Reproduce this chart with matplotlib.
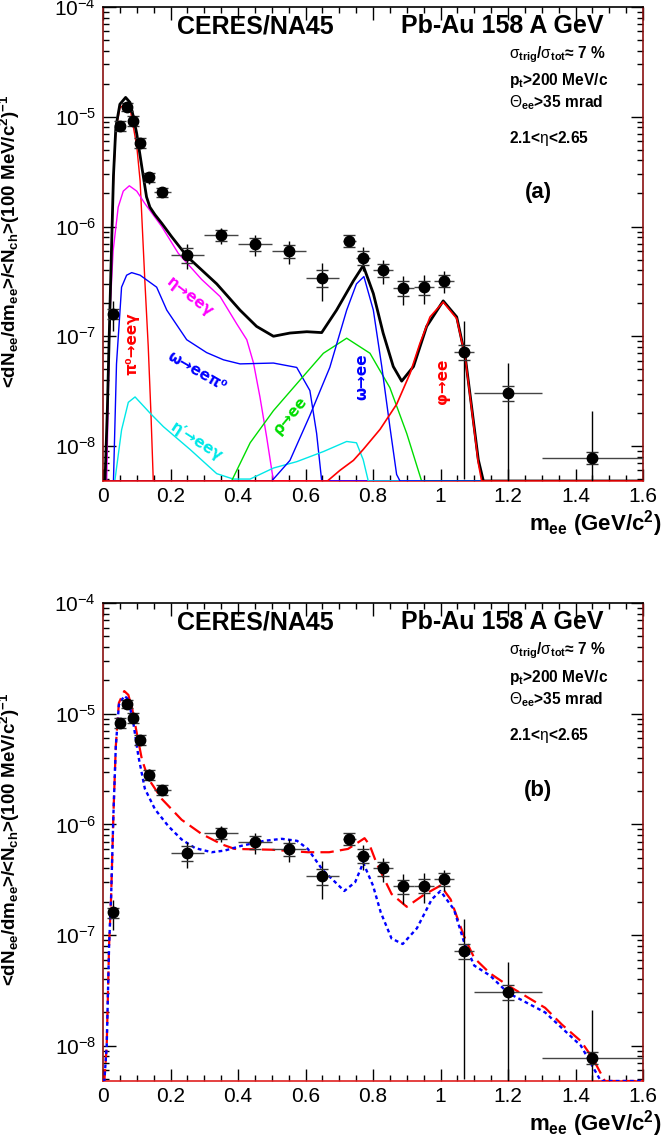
import numpy as np
import matplotlib
matplotlib.use('Agg')
import matplotlib.pyplot as plt
from matplotlib.ticker import FixedLocator, FuncFormatter, NullFormatter, MultipleLocator

plt.rcParams['font.family'] = ['Liberation Sans', 'DejaVu Sans']
plt.rcParams['mathtext.fontset'] = 'custom'
plt.rcParams['mathtext.rm'] = 'Liberation Sans'
plt.rcParams['mathtext.bf'] = 'Liberation Sans:bold'
plt.rcParams['mathtext.it'] = 'Liberation Sans:italic'

# ---------------- data points ----------------
mass = [0.03, 0.05, 0.07, 0.09, 0.11, 0.135, 0.175, 0.25, 0.35, 0.45, 0.55, 0.65,
        0.73, 0.77, 0.83, 0.89, 0.95, 1.01, 1.07, 1.20, 1.45]
mass_halfwidth = [0.01, 0.01, 0.01, 0.01, 0.01, 0.015, 0.025, 0.05, 0.05, 0.05, 0.05, 0.05,
                  0.02, 0.02, 0.03, 0.03, 0.03, 0.03, 0.03, 0.10, 0.15]
dn_dm = [1.6e-7, 8.3e-6, 1.23e-5, 9.2e-6, 5.8e-6, 2.8e-6, 2.05e-6, 5.5e-7, 8.3e-7, 6.9e-7,
         6.0e-7, 3.4e-7, 7.4e-7, 5.2e-7, 4.0e-7, 2.75e-7, 2.8e-7, 3.2e-7, 7.2e-8, 3.05e-8, 7.8e-9]
stat_rel = [0.30, 0.10, 0.08, 0.10, 0.10, 0.12, 0.10, 0.26, 0.17, 0.22, 0.24, 0.38,
            0.12, 0.25, 0.25, 0.30, 0.30, 0.22, 0.93, 0.89, 1.68]
sys_rel = [0.10, 0.10, 0.08, 0.10, 0.10, 0.10, 0.10, 0.15, 0.12, 0.14, 0.14, 0.17,
           0.12, 0.14, 0.14, 0.15, 0.15, 0.13, 0.15, 0.16, 0.13]

# ---------------- cocktail (panel a) ----------------
sum_m = [0.0, 0.006, 0.013, 0.018, 0.023, 0.031, 0.038, 0.05, 0.067, 0.08, 0.09, 0.1, 0.115,
         0.129, 0.139, 0.154, 0.174, 0.203, 0.25, 0.337, 0.406, 0.455, 0.505, 0.554, 0.604,
         0.648, 0.692, 0.742, 0.771, 0.801, 0.83, 0.86, 0.885, 0.92, 0.959, 1.008, 1.048,
         1.073, 1.092, 1.112, 1.127, 1.6]
sum_y = [4e-9, 4e-9, 2.2e-8, 9e-8, 3.5e-7, 2.9e-6, 8e-6, 1.3e-5, 1.5e-5, 1.35e-5, 1.0e-5, 7e-6,
         3.5e-6, 1.86e-6, 1.5e-6, 1.28e-6, 1.07e-6, 8.1e-7, 5.3e-7, 3.0e-7, 1.73e-7, 1.23e-7,
         1.0e-7, 1.07e-7, 1.1e-7, 1.08e-7, 1.73e-7, 3.2e-7, 4.4e-7, 2.45e-7, 1.07e-7, 5.3e-8,
         3.9e-8, 5.3e-8, 1.23e-7, 2.1e-7, 1.5e-7, 6.6e-8, 2.3e-8, 7.5e-9, 4e-9, 4e-9]

pi0_m = [0.0, 0.006, 0.013, 0.018, 0.023, 0.031, 0.038, 0.05, 0.067, 0.08, 0.1, 0.11, 0.124,
         0.134, 0.142, 0.149, 1.6]
pi0_y = [4e-9, 4e-9, 2e-8, 8e-8, 3.2e-7, 2.6e-6, 7.5e-6, 1.2e-5, 1.33e-5, 1.2e-5, 5.4e-6,
         2.6e-6, 3.2e-7, 8.1e-8, 2e-8, 4e-9, 4e-9]

eta_m = [0.0, 0.011, 0.02, 0.03, 0.045, 0.06, 0.078, 0.1, 0.124, 0.174, 0.223, 0.292, 0.347,
         0.396, 0.426, 0.446, 0.465, 0.485, 0.505, 1.6]
eta_y = [4e-9, 4e-9, 1.5e-7, 6e-7, 1.5e-6, 2.1e-6, 2.35e-6, 2.1e-6, 1.62e-6, 1.0e-6, 5.7e-7,
         3.3e-7, 2.3e-7, 1.3e-7, 9.3e-8, 5.7e-8, 2.8e-8, 1.2e-8, 4e-9, 4e-9]

omd_m = [0.0, 0.031, 0.04, 0.055, 0.07, 0.085, 0.11, 0.159, 0.189, 0.248, 0.307, 0.357, 0.406,
         0.505, 0.574, 0.613, 0.633, 0.648, 1.6]
omd_y = [4e-9, 4e-9, 5.6e-8, 2.8e-7, 3.6e-7, 3.8e-7, 3.6e-7, 2.8e-7, 1.73e-7, 9.3e-8, 7.1e-8,
         6.1e-8, 5.6e-8, 5.7e-8, 5.2e-8, 3.2e-8, 1.3e-8, 4e-9, 4e-9]

etap_m = [0.0, 0.035, 0.055, 0.075, 0.095, 0.139, 0.179, 0.258, 0.337, 0.386, 0.436, 0.505,
          0.574, 0.653, 0.722, 0.751, 0.771, 0.786, 1.6]
etap_y = [4e-9, 4e-9, 1.4e-8, 2.5e-8, 2.8e-8, 2.0e-8, 1.5e-8, 9.3e-9, 5.6e-9, 5.0e-9, 5.0e-9,
          6.3e-9, 7.2e-9, 8.9e-9, 1.1e-8, 1.07e-8, 7.5e-9, 4e-9, 4e-9]

rho_m = [0.0, 0.381, 0.436, 0.505, 0.584, 0.653, 0.722, 0.791, 0.85, 0.9, 0.944, 1.6]
rho_y = [4e-9, 4e-9, 1.07e-8, 2.1e-8, 4e-8, 7e-8, 9.6e-8, 7e-8, 3.4e-8, 1.3e-8, 4e-9, 4e-9]

omee_m = [0.0, 0.5, 0.554, 0.613, 0.672, 0.722, 0.751, 0.773, 0.801, 0.826, 0.85, 0.87, 0.88, 1.6]
omee_y = [4e-9, 4e-9, 7.4e-9, 1.9e-8, 5.2e-8, 1.73e-7, 3e-7, 3.5e-7, 1.73e-7, 5.3e-8, 1.5e-8,
          5.5e-9, 4e-9, 4e-9]

phi_m = [0.0, 0.665, 0.702, 0.742, 0.771, 0.821, 0.87, 0.91, 0.939, 0.969, 1.008, 1.048, 1.073,
         1.092, 1.112, 1.122, 1.6]
phi_y = [4e-9, 4e-9, 6e-9, 7.4e-9, 9.3e-9, 1.42e-8, 2.4e-8, 4.6e-8, 8.6e-8, 1.5e-7, 2.05e-7,
         1.45e-7, 6.5e-8, 2.2e-8, 7e-9, 4e-9, 4e-9]

# ---------------- models (panel b) ----------------
red_m = [0.0, 0.004, 0.011, 0.018, 0.024, 0.031, 0.038, 0.047, 0.063, 0.075, 0.087, 0.1, 0.115,
         0.134, 0.174, 0.233, 0.292, 0.352, 0.39, 0.5, 0.607, 0.67, 0.726, 0.76, 0.775, 0.79,
         0.81, 0.855, 0.9, 0.95, 1.0, 1.03, 1.07, 1.1, 1.147, 1.2, 1.31, 1.36, 1.416, 1.45,
         1.487, 1.6]
red_y = [4e-9, 4e-9, 1e-8, 8e-8, 2.2e-7, 1.27e-6, 5.1e-6, 1.25e-5, 1.6e-5, 1.48e-5, 1.09e-5,
         6.7e-6, 3.9e-6, 2.6e-6, 1.7e-6, 1.1e-6, 8.2e-7, 6.6e-7, 6.0e-7, 5.9e-7, 5.6e-7, 5.6e-7,
         6.0e-7, 7.0e-7, 7.5e-7, 6.5e-7, 4.5e-7, 2.35e-7, 1.8e-7, 2.3e-7, 2.8e-7, 2.1e-7, 9.7e-8,
         6.2e-8, 4.5e-8, 3.5e-8, 2.2e-8, 1.55e-8, 1.1e-8, 7.8e-9, 4e-9, 4e-9]

blue_m = [0.0, 0.004, 0.011, 0.018, 0.024, 0.031, 0.038, 0.047, 0.063, 0.075, 0.09, 0.105,
          0.124, 0.154, 0.194, 0.233, 0.273, 0.322, 0.361, 0.41, 0.478, 0.53, 0.575, 0.607,
          0.65, 0.715, 0.747, 0.771, 0.8, 0.823, 0.855, 0.888, 0.93, 0.974, 1.0, 1.04, 1.07,
          1.1, 1.147, 1.2, 1.31, 1.416, 1.475, 1.6]
blue_y = [4e-9, 4e-9, 1e-8, 8e-8, 2.2e-7, 1.27e-6, 5.1e-6, 1.2e-5, 1.45e-5, 1.35e-5, 8.2e-6,
          4.1e-6, 2.1e-6, 1.37e-6, 9.6e-7, 7.3e-7, 6.1e-7, 5.6e-7, 5.8e-7, 6.4e-7, 7.1e-7,
          7.4e-7, 7.1e-7, 6.0e-7, 3.9e-7, 2.5e-7, 3.0e-7, 4.5e-7, 2.8e-7, 1.6e-7, 9.3e-8,
          8.3e-8, 1.15e-7, 2.1e-7, 2.5e-7, 1.7e-7, 8.6e-8, 5.3e-8, 4.3e-8, 3.0e-8, 2.0e-8,
          1.0e-8, 4e-9, 4e-9]

XMIN, XMAX = 0.0, 1.6
YMIN, YMAX = 4.8e-9, 1e-4

W, H = 662, 1140
fig = plt.figure(figsize=(W / 100, H / 100), dpi=100)


def frac(l, t, r, b):
    return [l / W, 1 - b / H, (r - l) / W, (b - t) / H]


ax_a = fig.add_axes(frac(103, 7, 643, 481))
ax_b = fig.add_axes(frac(103, 603, 643, 1081))


def floor(y):
    return np.clip(np.asarray(y, float), YMIN, None)


def style_axes(ax, tag):
    ax.set_xscale('linear')
    ax.set_yscale('log')
    ax.set_xlim(XMIN, XMAX)
    ax.set_ylim(YMIN, YMAX)
    ax.xaxis.set_major_locator(MultipleLocator(0.2))
    ax.xaxis.set_minor_locator(MultipleLocator(0.05))
    ax.xaxis.set_major_formatter(FuncFormatter(lambda v, p: '%g' % round(v, 3)))
    ax.yaxis.set_major_locator(FixedLocator([1e-8, 1e-7, 1e-6, 1e-5, 1e-4]))
    minors = [k * 10.0 ** e for e in range(-9, -4) for k in range(2, 10)]
    ax.yaxis.set_minor_locator(FixedLocator(minors))
    ax.yaxis.set_minor_formatter(NullFormatter())
    ax.yaxis.set_major_formatter(FuncFormatter(lambda v, p: r'$10^{%d}$' % int(round(np.log10(v)))))
    ax.tick_params(which='both', direction='in', top=True, right=True, labelsize=15, width=1.0)
    ax.tick_params(which='major', length=9)
    ax.tick_params(which='minor', length=4.5)
    ax.tick_params(axis='x', pad=4)
    ax.tick_params(axis='y', pad=5)
    for s in ['left', 'right']:
        ax.spines[s].set_color('#8a1010')
    ax.spines['bottom'].set_color('#e02020')
    ax.spines['top'].set_color('black')
    for s in ax.spines.values():
        s.set_linewidth(1.2)

    ax.set_ylabel(r'<dN$_{\mathbf{ee}}$/dm$_{\mathbf{ee}}$>/<N$_{\mathbf{ch}}$>(100 MeV/c$^{\mathbf{2}}$)$^{\mathbf{-1}}$',
                  fontsize=13.5, fontweight='bold', labelpad=2)
    ax.yaxis.set_label_coords(-0.15, 0.505)
    ax.text(1.033, -0.09, r'm$_{\mathbf{ee}}$ (GeV/c$^{\mathbf{2}}$)', transform=ax.transAxes,
            ha='right', va='center', fontsize=16, fontweight='bold')

    ax.text(0.137, 0.945, 'CERES/NA45', transform=ax.transAxes, fontsize=18,
            fontweight='bold', ha='left', va='baseline')
    ax.text(0.926, 0.945, 'Pb-Au 158 A GeV', transform=ax.transAxes, fontsize=18,
            fontweight='bold', ha='right', va='baseline')
    info = [(0.892, r'$\mathrm{\sigma}_{\mathbf{trig}}$/$\mathrm{\sigma}_{\mathbf{tot}}$≈ 7 %'),
            (0.835, r'p$_{\mathbf{t}}$>200 MeV/c'),
            (0.789, r'$\mathrm{\Theta}_{\mathbf{ee}}$>35 mrad'),
            (0.713, r'2.1<$\mathrm{\eta}$<2.65')]
    for yy, s in info:
        ax.text(0.752, yy, s, transform=ax.transAxes, fontsize=11.2, fontweight='bold',
                ha='left', va='baseline')
    ax.text(0.806, 0.608, tag, transform=ax.transAxes, fontsize=16, fontweight='bold',
            ha='center', va='center')


def draw_points(ax):
    m = np.array(mass)
    y = np.array(dn_dm)
    ax.errorbar(m, y, xerr=mass_halfwidth, fmt='none', ecolor='#444444', elinewidth=1.0, zorder=5)
    ax.errorbar(m, y, yerr=np.array(stat_rel) * y, fmt='none', ecolor='black', elinewidth=1.0, zorder=5)
    ax.errorbar(m, y, yerr=np.array(sys_rel) * y, fmt='none', ecolor='#333333',
                elinewidth=0, capsize=4.5, capthick=1.0, zorder=5)
    ax.plot(m, y, 'o', color='black', markersize=7.5, zorder=6)


# ---------------- panel (a) ----------------
style_axes(ax_a, '(a)')
ax_a.plot(pi0_m, floor(pi0_y), color='#ff0000', lw=1.0, zorder=3)
ax_a.plot(eta_m, floor(eta_y), color='#ff00ff', lw=1.0, zorder=3)
ax_a.plot(omd_m, floor(omd_y), color='#0000ff', lw=1.0, zorder=3)
ax_a.plot(etap_m, floor(etap_y), color='#00e8e8', lw=1.0, zorder=3)
ax_a.plot(rho_m, floor(rho_y), color='#00dd00', lw=1.0, zorder=3)
ax_a.plot(omee_m, floor(omee_y), color='#0000ff', lw=1.0, zorder=3)
ax_a.plot(sum_m, floor(sum_y), color='black', lw=2.0, zorder=4)
ax_a.plot(phi_m, floor(phi_y), color='#ff0000', lw=1.2, zorder=4)
draw_points(ax_a)

lab_kw = dict(fontsize=11, fontweight='bold', ha='center', va='center', zorder=7,
              family=['DejaVu Sans'])
ax_a.text(0.086, 8.5e-8, 'π⁰→eeγ', color='#ff0000', rotation=90, **lab_kw)
ax_a.text(0.258, 2.3e-7, 'η→eeγ', color='#ff00ff', rotation=-38, **lab_kw)
ax_a.text(0.279, 4.8e-8, 'ω→eeπ⁰', color='#0000ff', rotation=-30, **lab_kw)
ax_a.text(0.276, 1.1e-8, 'η′→eeγ', color='#00e8e8', rotation=-33, **lab_kw)
ax_a.text(0.554, 1.9e-8, 'ρ→ee', color='#00dd00', rotation=50, **lab_kw)
ax_a.text(0.767, 4.3e-8, 'ω→ee', color='#0000ff', rotation=90, **lab_kw)
ax_a.text(1.007, 3.9e-8, 'φ→ee', color='#ff0000', rotation=90, **lab_kw)

# ---------------- panel (b) ----------------
style_axes(ax_b, '(b)')
ax_b.plot(red_m, floor(red_y), color='#ff0000', lw=1.6, dashes=(6, 2.8), zorder=4)
ax_b.plot(blue_m, floor(blue_y), color='#0000ff', lw=1.7, dashes=(1.6, 1.4), zorder=4)
draw_points(ax_b)

fig.savefig('out.png', dpi=100)
